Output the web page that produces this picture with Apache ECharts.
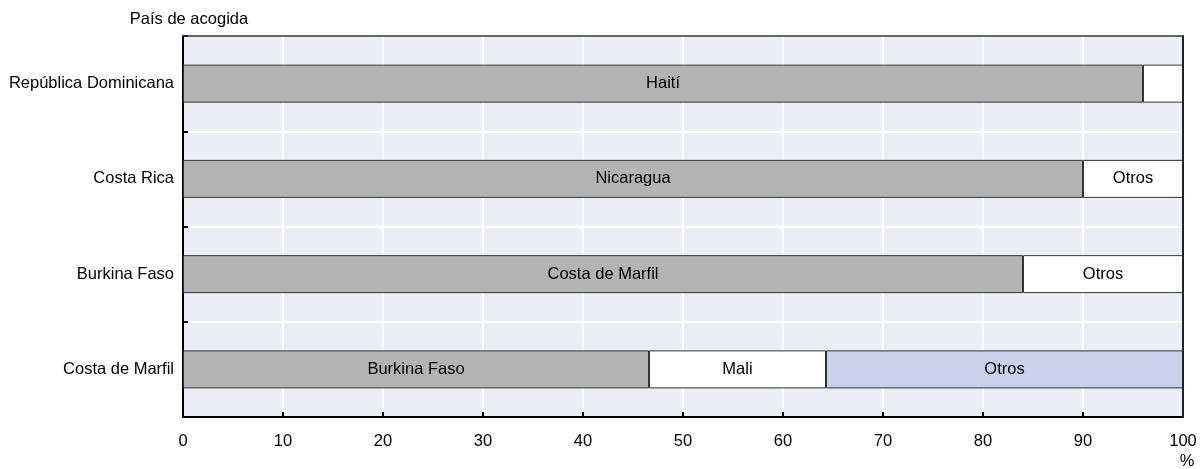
<!DOCTYPE html>
<html>
<head>
<meta charset="utf-8">
<script src="https://cdn.jsdelivr.net/npm/echarts@6/dist/echarts.min.js"></script>
<style>html,body{margin:0;padding:0;background:#fff;}#c{width:1201px;height:469px;}</style>
</head>
<body>
<div id="c"></div>
<script>
const categories = ['Costa de Marfil', 'Burkina Faso', 'Costa Rica', 'República Dominicana'];
const firstValues = [46.6, 84, 90, 96];
const firstLabels = ['Burkina Faso', 'Costa de Marfil', 'Nicaragua', 'Haití'];
const secondValues = [17.7, 16, 10, 4];
const secondLabels = ['Mali', 'Otros', 'Otros', ''];
const thirdValues = [35.7, 0, 0, 0];
const thirdLabels = ['Otros', '', '', ''];
const xTicks = [0, 10, 20, 30, 40, 50, 60, 70, 80, 90, 100];

const FONT = '"Liberation Sans", Arial, sans-serif';
const FS = 16.5;

function mk(name, vals, labels, color) {
  return {
    name: name,
    type: 'bar',
    stack: 'total',
    barWidth: 38,
    data: vals.map((v, i) => ({ value: v, label: { formatter: labels[i] } })),
    itemStyle: { color: color, borderColor: '#333', borderWidth: 1 },
    label: { show: true, position: 'inside', color: '#000', fontFamily: FONT, fontSize: FS },
    emphasis: { disabled: true },
    animation: false
  };
}

const chart = echarts.init(document.getElementById('c'), null, { renderer: 'canvas' });
chart.setOption({
  animation: false,
  grid: { left: 183, right: 18, top: 36, bottom: 52, show: true, backgroundColor: '#e9eef7', borderWidth: 0, containLabel: false, outerBoundsMode: 'none' },
  xAxis: [{
    type: 'value', min: 0, max: 100, interval: 10,
    name: '%', nameLocation: 'end', nameGap: 4,
    nameTextStyle: { fontFamily: FONT, fontSize: FS, color: '#000', align: 'center', verticalAlign: 'top', padding: [36, 0, 0, 0] },
    axisLine: { show: true, lineStyle: { color: '#000', width: 2 } },
    axisTick: { show: true, inside: true, length: 5, lineStyle: { color: '#000', width: 2 } },
    axisLabel: { color: '#000', fontFamily: FONT, fontSize: FS, margin: 16, formatter: v => xTicks.includes(v) ? String(v) : '' },
    splitLine: { show: true, lineStyle: { color: '#fff', width: 2 } }
  }, {
    type: 'value', min: 0, max: 100, interval: 10, position: 'top',
    axisLine: { show: true, onZero: false, lineStyle: { color: '#333', width: 1.5 } },
    axisTick: { show: false }, axisLabel: { show: false }, splitLine: { show: false },
    z: 3
  }],
  yAxis: [{
    type: 'category', data: categories,
    name: 'País de acogida', nameLocation: 'end', nameGap: 8,
    nameTextStyle: { fontFamily: FONT, fontSize: FS, color: '#000', align: 'center', padding: [0, 0, 0, 12] },
    axisLine: { show: true, lineStyle: { color: '#000', width: 2 } },
    axisTick: { show: true, inside: true, length: 5, lineStyle: { color: '#000', width: 2 } },
    axisLabel: { color: '#000', fontFamily: FONT, fontSize: FS, margin: 9 },
    splitLine: { show: true, lineStyle: { color: '#fff', width: 2 } }
  }, {
    type: 'category', data: categories, position: 'right',
    axisLine: { show: true, onZero: false, lineStyle: { color: '#222', width: 2 } },
    axisTick: { show: false }, axisLabel: { show: false }, splitLine: { show: false },
    z: 3
  }],
  series: [
    mk('Principal', firstValues, firstLabels, '#b3b3b3'),
    mk('Segundo', secondValues, secondLabels, '#ffffff'),
    mk('Otros', thirdValues, thirdLabels, '#c5d2ea')
  ]
});
</script>
</body>
</html>
